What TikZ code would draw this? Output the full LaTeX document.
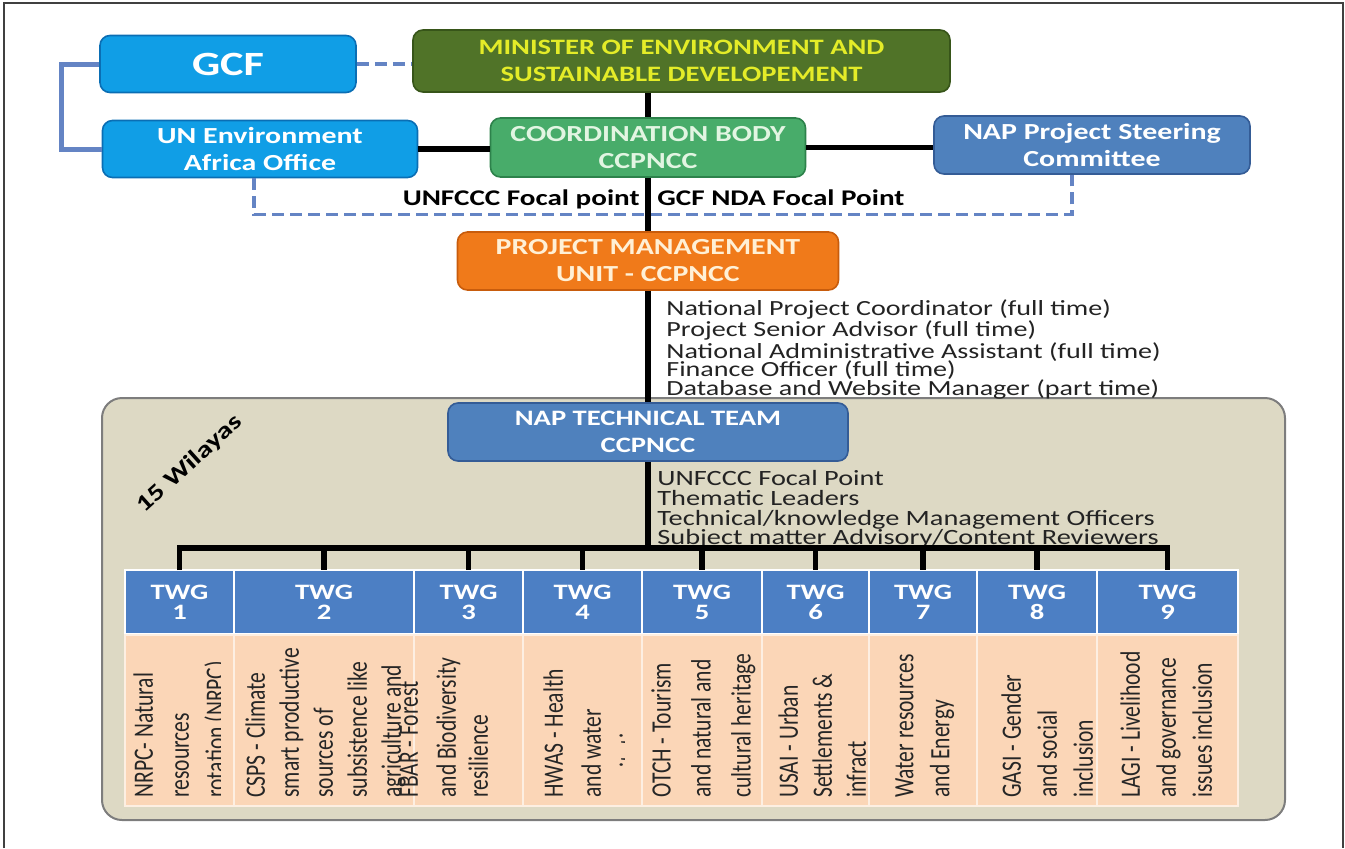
\documentclass[tikz,border=0pt]{standalone}
\usepackage{fontspec}
\setmainfont{Carlito}[FakeStretch=1.3]
\newfontfamily\rotfont{Carlito}[FakeStretch=0.77]
\usetikzlibrary{positioning}

\definecolor{gcfblue}{RGB}{16,158,230}
\definecolor{gcfedge}{RGB}{10,110,180}
\definecolor{minigreen}{RGB}{80,115,40}
\definecolor{miniedge}{RGB}{55,85,25}
\definecolor{miniyellow}{RGB}{228,236,40}
\definecolor{coordgreen}{RGB}{72,172,106}
\definecolor{coordedge}{RGB}{45,130,75}
\definecolor{coordtext}{RGB}{226,245,226}
\definecolor{napblue}{RGB}{79,129,189}
\definecolor{napedge}{RGB}{52,92,150}
\definecolor{pmuorange}{RGB}{240,122,26}
\definecolor{pmuedge}{RGB}{200,92,12}
\definecolor{pmutext}{RGB}{255,240,214}
\definecolor{wilayatan}{RGB}{221,217,196}
\definecolor{wilayaedge}{RGB}{125,125,125}
\definecolor{twgblue}{RGB}{76,127,196}
\definecolor{peach}{RGB}{251,214,183}
\definecolor{dashblue}{RGB}{100,132,196}
\definecolor{listgray}{RGB}{35,35,35}

\begin{document}
\begin{tikzpicture}[x=0.5pt, y=-0.5pt,
	box/.style={draw, rectangle, rounded corners=5pt, line width=0.8pt, align=center, inner sep=2pt, font=\bfseries\fontsize{11.5}{13.5}\selectfont},
	stafflist/.style={anchor=north west, align=left, inner sep=0pt, text=listgray, font=\fontsize{10.8}{9.4}\selectfont},
	focal/.style={inner sep=0pt, text=black, font=\bfseries\fontsize{11.2}{13}\selectfont},
	twghead/.style={draw=white, line width=1pt, outer sep=0pt, fill=twgblue, text=white, align=center, minimum height=32pt, font=\bfseries\fontsize{11}{10}\selectfont},
	twgbody/.style={draw=peach!40!white, line width=0.6pt, outer sep=0pt, fill=peach, minimum height=85.5pt},
	twgtext/.style={rotate=90, anchor=north west, align=left, inner sep=0pt, text=black!85, font=\rotfont\fontsize{14}{18}\selectfont},
	link/.style={line width=2.6pt, black},
	bracket/.style={line width=2.5pt, dashblue},
	dashlink/.style={line width=1.6pt, dashblue, dash pattern=on 6pt off 3pt}]

	\useasboundingbox (0,0) rectangle (1345,848);
	\draw[black!75, line width=0.6pt] (4,848) -- (4,3) -- (1343,3) -- (1343,848);

	% wilayas panel behind the technical team
	\node[draw=wilayaedge, fill=wilayatan, line width=1pt, rounded corners=10pt, minimum width=591.5pt, minimum height=211pt] (panel) at (693.5,609) {};
	\node[rotate=42, font=\bfseries\fontsize{11.5}{12}\selectfont] (wilayas) at (190,464) {15 Wilayas};

	% top level
	\node[box, draw=gcfedge, fill=gcfblue, text=white, minimum width=128pt, minimum height=28.5pt, font=\bfseries\fontsize{17}{18}\selectfont] (gcf) at (228,64) {GCF};
	\node[box, draw=miniedge, fill=minigreen, text=miniyellow, minimum width=268.5pt, minimum height=31pt, font=\bfseries\fontsize{11}{13.5}\selectfont] (minister) at (681.5,61) {MINISTER OF ENVIRONMENT AND\\SUSTAINABLE DEVELOPEMENT};
	\node[box, draw=gcfedge, fill=gcfblue, text=white, minimum width=157.5pt, minimum height=28.5pt] (unenv) at (260,149) {UN Environment\\Africa Office};
	\node[box, draw=coordedge, fill=coordgreen, text=coordtext, minimum width=157.5pt, minimum height=29.5pt] (coord) at (648,147.5) {COORDINATION BODY\\CCPNCC};
	\node[box, draw=napedge, fill=napblue, text=white, minimum width=158pt, minimum height=29pt] (steering) at (1092,145) {NAP Project Steering\\Committee};

	\node[focal, anchor=east] (focalun) at ([xshift=-4pt, yshift=-11pt]coord.south) {UNFCCC Focal point};
	\node[focal, anchor=west] (focalgcf) at ([xshift=4.5pt, yshift=-10pt]coord.south) {GCF NDA Focal Point};

	\node[box, draw=pmuedge, fill=pmuorange, text=pmutext, minimum width=190.5pt, minimum height=29pt] (pmu) at (648,261) {PROJECT MANAGEMENT\\UNIT - CCPNCC};
	\node[stafflist] (pmustaff) at ([xshift=9pt, yshift=-4pt]pmu.south) {National Project Coordinator (full time)\\Project Senior Advisor (full time)\\National Administrative Assistant (full time)\\Finance Officer (full time)\\Database and Website Manager (part time)};

	\node[box, draw=napedge, fill=napblue, text=white, minimum width=200pt, minimum height=29pt, font=\bfseries\fontsize{11}{13.5}\selectfont] (tech) at (648,432) {NAP TECHNICAL TEAM\\CCPNCC};
	\node[stafflist, font=\fontsize{10.9}{9.85}\selectfont] (techstaff) at ([xshift=4.5pt, yshift=-4.25pt]tech.south) {UNFCCC Focal Point\\Thematic Leaders\\Technical/knowledge Management Officers\\Subject matter Advisory/Content Reviewers};

	% links
	\draw[bracket] (gcf.west) -- ++(-38,0) |- (unenv.west);
	\draw[dashlink, line width=2pt] (gcf.east) -- (gcf.east -| minister.west);
	\draw[dashlink] ([xshift=-3pt]unenv.south) -- ++(0,36) -| ([xshift=-10pt]steering.south);
	\draw[link] (coord.north |- minister.south) -- (coord.north);
	\draw[link] (unenv.east) -- (unenv.east -| coord.west);
	\draw[link] (coord.east) -- (coord.east -| steering.west);
	\draw[link] (coord.south) -- (pmu.north);
	\draw[link] (pmu.south) -- (tech.north);

	% thematic working groups
	\node[twghead, minimum width=54.5pt] (twg1) at (179.5,602) {TWG\\1};
	\node[twghead, minimum width=90pt, right=0pt of twg1] (twg2) {TWG\\2};
	\node[twghead, minimum width=54.5pt, right=0pt of twg2] (twg3) {TWG\\3};
	\node[twghead, minimum width=59.5pt, right=0pt of twg3] (twg4) {TWG\\4};
	\node[twghead, minimum width=60pt, right=0pt of twg4] (twg5) {TWG\\5};
	\node[twghead, minimum width=53.5pt, right=0pt of twg5] (twg6) {TWG\\6};
	\node[twghead, minimum width=54pt, right=0pt of twg6] (twg7) {TWG\\7};
	\node[twghead, minimum width=60pt, right=0pt of twg7] (twg8) {TWG\\8};
	\node[twghead, minimum width=70.5pt, right=0pt of twg8] (twg9) {TWG\\9};

	\node[twgbody, minimum width=54.5pt, below=0.5pt of twg1] (body1) {};
	\node[twgbody, minimum width=90pt, below=0.5pt of twg2] (body2) {};
	\node[twgbody, minimum width=54.5pt, below=0.5pt of twg3] (body3) {};
	\node[twgbody, minimum width=59.5pt, below=0.5pt of twg4] (body4) {};
	\node[twgbody, minimum width=60pt, below=0.5pt of twg5] (body5) {};
	\node[twgbody, minimum width=53.5pt, below=0.5pt of twg6] (body6) {};
	\node[twgbody, minimum width=54pt, below=0.5pt of twg7] (body7) {};
	\node[twgbody, minimum width=60pt, below=0.5pt of twg8] (body8) {};
	\node[twgbody, minimum width=70.5pt, below=0.5pt of twg9] (body9) {};

	\begin{scope}
		\clip (body1.south west) rectangle ([xshift=-7pt]body1.north east);
		\node[twgtext] (txt1) at ([xshift=4pt, yshift=4pt]body1.south west) {NRPC- Natural\\resources\\rotation (NRPC)};
	\end{scope}
	\node[twgtext, font=\rotfont\fontsize{14}{17}\selectfont] (txt2) at ([xshift=5.5pt, yshift=4pt]body2.south west) {CSPS - Climate\\smart productive\\sources of\\subsistence like\\agriculture and\\[-8.5pt]FBAR - Forest};
	\node[twgtext, font=\rotfont\fontsize{14}{16}\selectfont] (txt3) at ([xshift=11pt, yshift=4pt]body3.south west) {and Biodiversity\\resilience};
	\begin{scope}
		\clip (body4.south west) rectangle ([xshift=-9pt]body4.north east);
		\node[twgtext, font=\rotfont\fontsize{14}{19}\selectfont] (txt4) at ([xshift=10pt, yshift=4pt]body4.south west) {HWAS - Health\\and water\\sanitation};
	\end{scope}
	\node[twgtext, font=\rotfont\fontsize{14}{20}\selectfont] (txt5) at ([xshift=4.5pt, yshift=4pt]body5.south west) {OTCH - Tourism\\and natural and\\cultural heritage};
	\node[twgtext, font=\rotfont\fontsize{14}{17}\selectfont] (txt6) at ([xshift=8pt, yshift=4pt]body6.south west) {USAI - Urban\\Settlements \&\\infract};
	\node[twgtext] (txt7) at ([xshift=13pt, yshift=4pt]body7.south west) {Water resources\\and Energy};
	\node[twgtext] (txt8) at ([xshift=12pt, yshift=4pt]body8.south west) {GASI - Gender\\and social\\inclusion};
	\node[twgtext] (txt9) at ([xshift=11.5pt, yshift=4pt]body9.south west) {LAGI - Livelihood\\and governance\\issues inclusion};

	% bus to the groups
	\coordinate (bus) at (648,548);
	\draw[link] (tech.south) -- (bus);
	\draw[link] (twg1.north) -- (twg1.north |- bus) -- (twg9.north |- bus) -- (twg9.north);
	\draw[link] (twg2.north |- bus) -- (twg2.north) (twg3.north |- bus) -- (twg3.north)
		(twg4.north |- bus) -- (twg4.north) (twg5.north |- bus) -- (twg5.north)
		(twg6.north |- bus) -- (twg6.north) (twg7.north |- bus) -- (twg7.north)
		(twg8.north |- bus) -- (twg8.north);
\end{tikzpicture}
\end{document}
